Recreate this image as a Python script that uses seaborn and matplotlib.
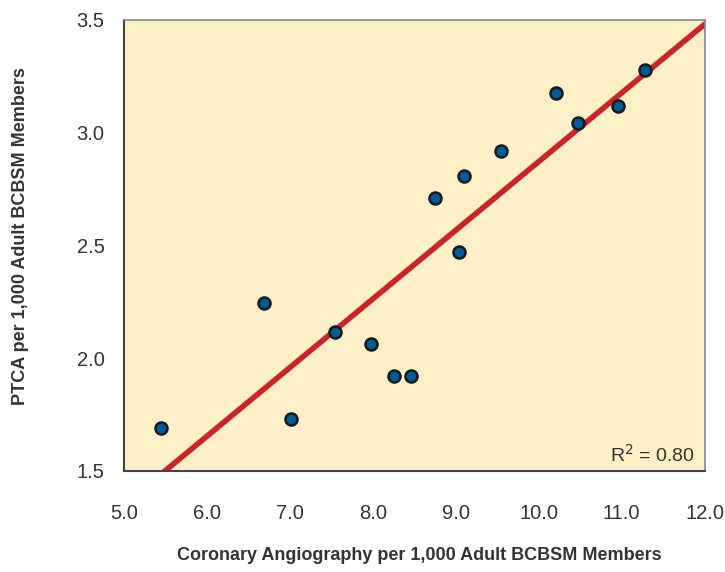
import matplotlib
matplotlib.use("Agg")
import matplotlib.pyplot as plt
import seaborn as sns
import pandas as pd
from matplotlib import font_manager

angio = [5.45, 6.69, 7.01, 7.54, 7.98, 8.25, 8.46, 8.75, 9.04, 9.10, 9.55, 10.21, 10.47, 10.95, 11.28]
ptca = [1.69, 2.245, 1.73, 2.115, 2.065, 1.92, 1.92, 2.71, 2.47, 2.81, 2.92, 3.175, 3.045, 3.12, 3.28]
xticks = [5.0, 6.0, 7.0, 8.0, 9.0, 10.0, 11.0, 12.0]
yticks = [1.5, 2.0, 2.5, 3.0, 3.5]

df = pd.DataFrame({"x": angio, "y": ptca})

sns.set_theme(style="white")
plt.rcParams['font.family'] = ['Liberation Sans', 'DejaVu Sans']

names = {f.name for f in font_manager.fontManager.ttflist}
narrow = 'Liberation Sans Narrow' if 'Liberation Sans Narrow' in names else 'Liberation Sans'

fig = plt.figure(figsize=(7.25, 5.72), dpi=100)
ax = fig.add_axes([0.171, 0.1766, 0.801, 0.7885])
ax.set_facecolor('#FDEFC8')
ax.set_xlim(5.0, 12.0)
ax.set_ylim(1.5, 3.5)

sns.regplot(data=df, x="x", y="y", ax=ax, ci=None, truncate=False,
            scatter_kws=dict(s=75, color='#005B96', edgecolor='#1a1a1a', linewidths=1.8, alpha=1, zorder=3),
            line_kws=dict(color='#CC2229', linewidth=4, zorder=2))

ax.set_xlim(5.0, 12.0)
ax.set_ylim(1.5, 3.5)
ax.set_xticks(xticks)
ax.set_yticks(yticks)
ax.set_xticklabels([f"{v:.1f}" for v in xticks])
ax.set_yticklabels([f"{v:.1f}" for v in yticks])
ax.tick_params(axis='both', length=0, labelsize=14.5, colors='#333333')
ax.tick_params(axis='y', pad=14)
ax.tick_params(axis='x', pad=24)

for s in ['left', 'bottom']:
    ax.spines[s].set_color('#444444')
    ax.spines[s].set_linewidth(1.5)
for s in ['top', 'right']:
    ax.spines[s].set_color('#888888')
    ax.spines[s].set_linewidth(1.2)

ax.set_xlabel("Coronary Angiography per 1,000 Adult BCBSM Members", fontsize=13,
              fontweight='bold', family=narrow, color='#333333', va='center')
ax.set_ylabel("PTCA per 1,000 Adult BCBSM Members", fontsize=13,
              fontweight='bold', family=narrow, color='#333333', va='center')
ax.xaxis.set_label_coords(0.508, -0.188)
ax.yaxis.set_label_coords(-0.179, 0.521)

ax.text(0.983, 0.02, r"R$^2$ = 0.80", transform=ax.transAxes, ha='right', va='baseline',
        fontsize=14, color='#333333')

fig.savefig("out.png", dpi=100)
